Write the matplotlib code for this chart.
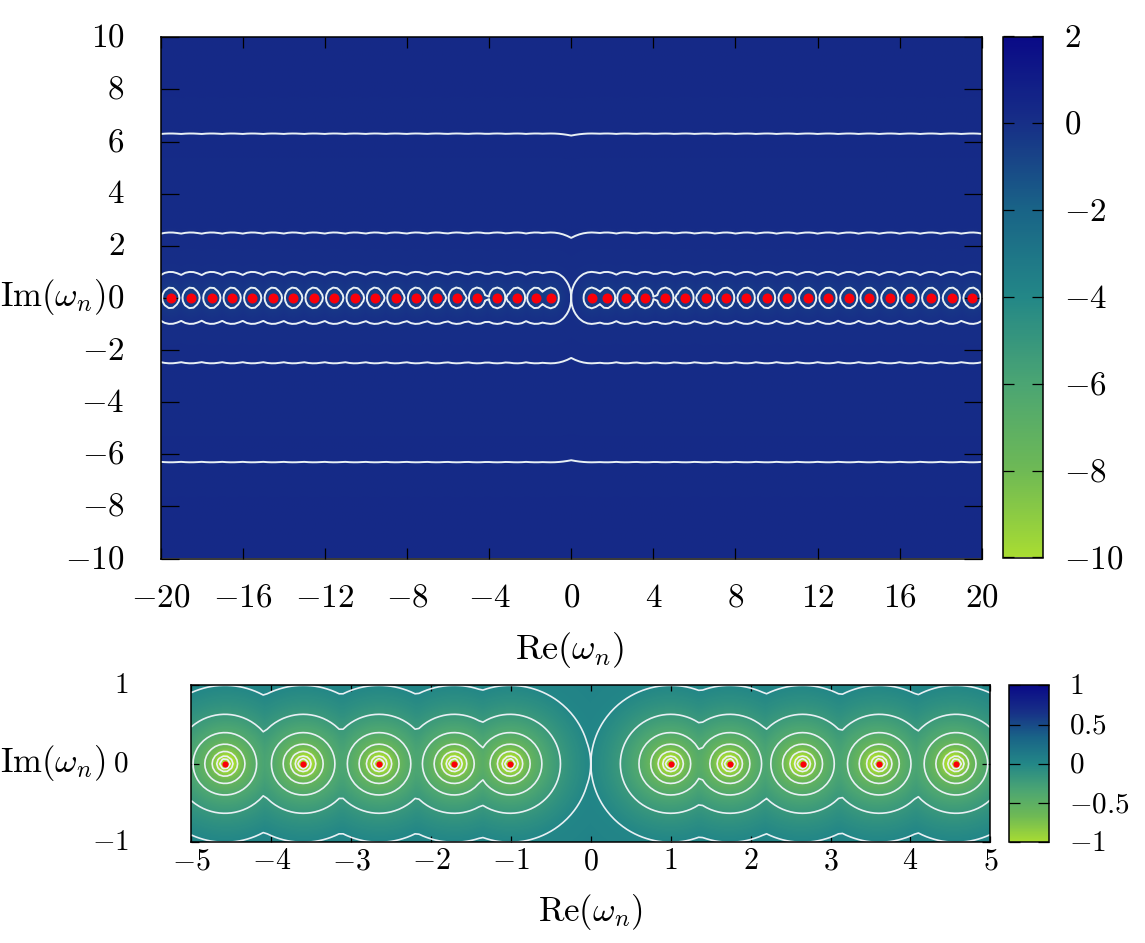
import numpy as np
import matplotlib
matplotlib.use("Agg")
import matplotlib.pyplot as plt
from matplotlib.colors import LinearSegmentedColormap
from matplotlib.transforms import ScaledTranslation

plt.rcParams['mathtext.fontset'] = 'cm'
plt.rcParams['font.family'] = ['cmr10', 'DejaVu Sans']
plt.rcParams['axes.formatter.use_mathtext'] = True

zeros_left = [-19.52, -18.53, -17.52, -16.53, -15.53, -14.53, -13.54, -12.54, -11.54, -10.54,
              -9.55, -8.56, -7.55, -6.56, -5.57, -4.58, -3.61, -2.65, -1.72, -1.00]
zeros_right = [1.00, 1.72, 2.65, 3.61, 4.58, 5.56, 6.55, 7.54, 8.54, 9.53,
               10.53, 11.53, 12.52, 13.53, 14.52, 15.53, 16.52, 17.52, 18.53, 19.54]
zeros_zoom = [-4.58, -3.60, -2.65, -1.71, -1.01, 1.00, 1.74, 2.65, 3.61, 4.57]

levels_top = [-0.4, 0.0, 0.4, 0.8]
levels_zoom = [-1.2, -1.0, -0.8, -0.6, -0.4, -0.2, 0.0]

xticks_top = [-20, -16, -12, -8, -4, 0, 4, 8, 12, 16, 20]
yticks_top = [-10, -8, -6, -4, -2, 0, 2, 4, 6, 8, 10]
cticks_top = [-10, -8, -6, -4, -2, 0, 2]
xticks_zoom = [-5, -4, -3, -2, -1, 0, 1, 2, 3, 4, 5]
yticks_zoom = [-1, 0, 1]
cticks_zoom = [-1, -0.5, 0, 0.5, 1]
clabels_zoom = ['-1', '-0.5', '0', '0.5', '1']

cmap_colors = ['#a8dc32', '#6eb955', '#4ba573', '#238787', '#196487', '#172f87', '#0a0a87']
cmap = LinearSegmentedColormap.from_list('bluegreen', cmap_colors)

W, H = 1145, 943
fig = plt.figure(figsize=(W / 100, H / 100), dpi=100)


def add_ax(l, t, r, b):
    return fig.add_axes([l / W, 1 - b / H, (r - l) / W, (b - t) / H])


def field(xs, ys, zeros):
    X, Y = np.meshgrid(xs, ys)
    z = np.asarray(zeros)[:, None, None]
    return X, Y, np.log10(np.sqrt((X - z) ** 2 + Y ** 2).min(axis=0) + 1e-3)


def tex(v):
    return '$' + str(v) + '$'


def nudge_up(labels, px):
    for t in labels:
        t.set_transform(t.get_transform() + ScaledTranslation(0, px / 100, fig.dpi_scale_trans))


def panel(ax, cax, zeros, xlim, ylim, vlim, levels, nimg, ncont, ms, lw, squeeze):
    xi = np.linspace(*xlim, nimg[0])
    yi = np.linspace(*ylim, nimg[1])
    _, _, Z = field(xi, yi, zeros)
    Z = np.where(Z > 0, Z * squeeze, Z)
    im = ax.imshow(Z, extent=[*xlim, *ylim], origin='lower', aspect='auto', cmap=cmap,
                   vmin=vlim[0], vmax=vlim[1], interpolation='bilinear')
    xc = np.linspace(*xlim, ncont[0])
    yc = np.linspace(*ylim, ncont[1])
    Xc, Yc, Zc = field(xc, yc, zeros)
    ax.contour(Xc, Yc, Zc, levels=levels, colors='#e8f0f4', linewidths=lw, linestyles='solid')
    ax.scatter(zeros, np.zeros(len(zeros)), s=ms, color='#fa000a', zorder=5, linewidths=0,
               clip_on=False)
    ax.set_xlim(*xlim)
    ax.set_ylim(*ylim)
    cb = fig.colorbar(im, cax=cax)
    return cb


# ---------- top panel ----------
ax1 = add_ax(160.7, 37.3, 981.7, 558.5)
cax1 = add_ax(1002.7, 36.5, 1043.3, 557.5)
cb1 = panel(ax1, cax1, zeros_left + zeros_right, (-20, 20), (-10, 10), (-10, 2), levels_top,
            (1601, 801), (201, 161), 52, 1.4, 0.3)
ax1.set_xticks(xticks_top, [tex(v) for v in xticks_top])
ax1.set_yticks(yticks_top, [tex(v) for v in yticks_top])
ax1.tick_params(axis='x', direction='in', length=8, width=0.9, top=True, bottom=True,
                labelsize=23.8, pad=18)
ax1.tick_params(axis='y', direction='in', length=13, width=0.9, left=True, right=True,
                labelsize=23.8, pad=26)
cb1.set_ticks(cticks_top, labels=[tex(v) for v in cticks_top])
cax1.tick_params(direction='in', length=8, width=0.9, left=True, right=True, labelsize=23.8, pad=15)
nudge_up(ax1.get_yticklabels(), 2)
nudge_up(cax1.get_yticklabels(), 1)

fig.text(570 / W, 1 - 650 / H, r'$\mathrm{Re}(\omega_n)$', ha='center', va='center', fontsize=26)
fig.text(52.5 / W, 1 - 297 / H, r'$\mathrm{Im}(\omega_n)$', ha='center', va='center', fontsize=25)

# ---------- zoom panel ----------
ax2 = add_ax(191.3, 685.3, 990.3, 842.3)
cax2 = add_ax(1008.5, 685.3, 1048.5, 842.3)
cb2 = panel(ax2, cax2, zeros_zoom, (-5, 5), (-1, 1), (-1, 1), levels_zoom,
            (201, 41), (201, 41), 20, 1.2, 0.3)
ax2.set_xticks(xticks_zoom, [tex(v) for v in xticks_zoom])
ax2.set_yticks(yticks_zoom, [tex(v) for v in yticks_zoom])
ax2.tick_params(axis='x', direction='in', length=4, width=0.9, top=True, bottom=True,
                labelsize=21.5, pad=4)
ax2.tick_params(axis='y', direction='in', length=6, width=0.9, left=True, right=True,
                labelsize=21, pad=45)
cb2.set_ticks(cticks_zoom, labels=['$' + s + '$' for s in clabels_zoom])
cax2.tick_params(direction='in', length=8, width=0.9, left=True, right=True, labelsize=21, pad=15)
nudge_up(ax2.get_yticklabels(), 2)
nudge_up(cax2.get_yticklabels(), 1)

fig.text(590 / W, 1 - 912 / H, r'$\mathrm{Re}(\omega_n)$', ha='center', va='center', fontsize=25)
fig.text(52.5 / W, 1 - 763 / H, r'$\mathrm{Im}(\omega_n)$', ha='center', va='center', fontsize=25)

for a in (ax1, ax2, cax1, cax2):
    for s in a.spines.values():
        s.set_linewidth(1.1)
    if a in (cax1, cax2):
        a.minorticks_off()

fig.savefig('out.png', dpi=100)
